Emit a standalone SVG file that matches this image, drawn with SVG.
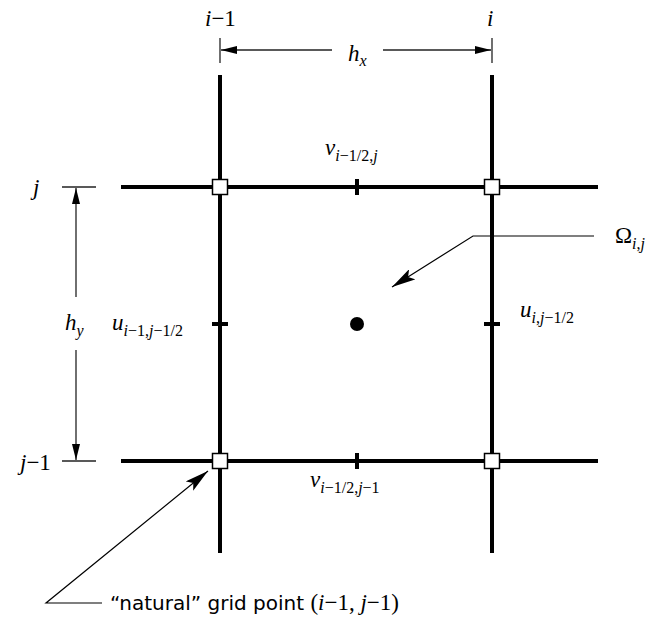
<svg xmlns="http://www.w3.org/2000/svg" width="652" height="627" viewBox="0 0 652 627">
<defs>
<style>
.grid{stroke:#000;stroke-width:4;fill:none}
.tick{stroke:#000;stroke-width:4;fill:none}
.node{fill:#fff;stroke:#000;stroke-width:1.5}
.dim{stroke:#222;stroke-width:1.3;fill:none}
.lead{stroke:#000;stroke-width:1.2;fill:none}
.it{font-style:italic}
.sub{font-size:16px}
.serif{font-family:"Liberation Serif","Times New Roman",Tinos,"DejaVu Serif",serif}
</style>
<marker id="ah" markerUnits="userSpaceOnUse" markerWidth="16" markerHeight="8" refX="16" refY="4" orient="auto">
<path d="M0,0 L16,4 L0,8 z" fill="#000"/>
</marker>
<marker id="ah2" markerUnits="userSpaceOnUse" markerWidth="24" markerHeight="12" refX="24" refY="6" orient="auto">
<path d="M0,0 L24,6 L0,12 L5,6 z" fill="#000"/>
</marker>
</defs>
<rect width="652" height="627" fill="#fff"/>

<g id="grid">
<line class="grid" x1="121" y1="187" x2="598" y2="187"/>
<line class="grid" x1="121" y1="461" x2="598" y2="461"/>
<line class="grid" x1="220" y1="75" x2="220" y2="553"/>
<line class="grid" x1="492" y1="75" x2="492" y2="553"/>
</g>

<g id="ticks">
<line class="tick" x1="357" y1="179" x2="357" y2="195"/>
<line class="tick" x1="357" y1="453" x2="357" y2="469"/>
<line class="tick" x1="212" y1="324" x2="228" y2="324"/>
<line class="tick" x1="484" y1="324" x2="500" y2="324"/>
</g>

<g id="connectors">
<line class="dim" x1="220" y1="38" x2="220" y2="63"/>
<line class="dim" x1="492" y1="38" x2="492" y2="63"/>
<line class="dim" x1="332" y1="50" x2="221" y2="50" marker-end="url(#ah)"/>
<line class="dim" x1="383" y1="50" x2="491" y2="50" marker-end="url(#ah)"/>
<line class="dim" x1="62" y1="187" x2="96" y2="187"/>
<line class="dim" x1="62" y1="461" x2="96" y2="461"/>
<line class="dim" x1="76" y1="297" x2="76" y2="188" marker-end="url(#ah)"/>
<line class="dim" x1="76" y1="350" x2="76" y2="460" marker-end="url(#ah)"/>
<polyline class="lead" points="594,236 473,236 392,287" marker-end="url(#ah2)"/>
<polyline class="lead" points="102,603 46,603 208,471" marker-end="url(#ah2)"/>
</g>

<g id="node-i1-j"><rect class="node" x="212.5" y="179.5" width="15" height="15"/></g>
<g id="node-i-j"><rect class="node" x="484.5" y="179.5" width="15" height="15"/></g>
<g id="node-i1-j1"><rect class="node" x="212.5" y="453.5" width="15" height="15"/></g>
<g id="node-i-j1"><rect class="node" x="484.5" y="453.5" width="15" height="15"/></g>
<g id="center"><circle cx="357" cy="324" r="7" fill="#000"/></g>

<g id="labels" class="serif" font-size="23" fill="#000">
<text class="serif" x="205" y="26"><tspan class="it">i</tspan>−1</text>
<text class="serif it" x="487" y="26">i</text>
<text class="serif it" x="348" y="61">h<tspan class="sub" dy="5">x</tspan></text>
<text class="serif it" x="33" y="195">j</text>
<text class="serif" x="20" y="470"><tspan class="it">j</tspan>−1</text>
<text class="serif it" x="65" y="330">h<tspan class="sub" dy="6">y</tspan></text>
<text class="serif" x="325" y="155"><tspan class="it">v</tspan><tspan class="sub" dy="6"><tspan class="it">i</tspan>−1/2,<tspan class="it">j</tspan></tspan></text>
<text class="serif" x="112" y="330"><tspan class="it">u</tspan><tspan class="sub" dy="6"><tspan class="it">i</tspan>−1,<tspan class="it">j</tspan>−1/2</tspan></text>
<text class="serif" x="520" y="317"><tspan class="it">u</tspan><tspan class="sub" dy="6"><tspan class="it">i</tspan>,<tspan class="it">j</tspan>−1/2</tspan></text>
<text class="serif" x="310" y="487"><tspan class="it">v</tspan><tspan class="sub" dy="6"><tspan class="it">i</tspan>−1/2,<tspan class="it">j</tspan>−1</tspan></text>
<text class="serif" x="615" y="243">Ω<tspan class="sub" dy="6"><tspan class="it">i</tspan>,<tspan class="it">j</tspan></tspan></text>
<text class="serif" x="110" y="610"><tspan font-family="'DejaVu Sans', sans-serif" font-size="20">“natural” grid point </tspan>(<tspan class="it">i</tspan>−1, <tspan class="it">j</tspan>−1)</text>
</g>
</svg>
